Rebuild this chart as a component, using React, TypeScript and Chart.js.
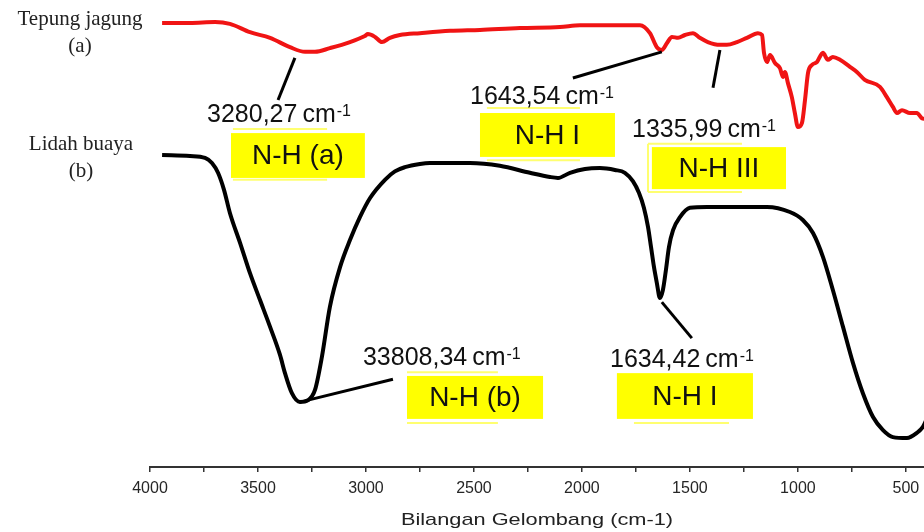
import React, { useEffect, useRef } from 'react';
import { Chart, registerables } from 'chart.js';

Chart.register(...registerables);

// ---- Data ----
const SERIES_NAMES = ['Tepung jagung', 'Lidah buaya'];
const SERIES_TAGS = ['(a)', '(b)'];

const WAVENUMBER_A = [
  3944, 3815, 3699, 3630, 3537, 3444, 3352, 3282, 3236, 3167, 3074, 3005, 2991, 2958, 2926, 2889, 2843,
  2750, 2611, 2472, 2287, 2102, 2009, 1870, 1731, 1685, 1653, 1630, 1606, 1583, 1555, 1523, 1486, 1454,
  1417, 1361, 1329, 1282, 1236, 1185, 1166, 1157, 1143, 1129, 1106, 1083, 1069, 1060, 1046, 1028, 1014,
  1000, 981, 967, 953, 935, 912, 884, 861, 838, 805, 759, 727, 690, 620, 588, 560, 541, 518, 481, 449,
  426, 405,
];
const TRANSMIT_A = [
  95.1, 95.1, 95.3, 94.9, 93.1, 91.9, 89.9, 88.9, 88.9, 89.7, 91.0, 92.3, 92.7, 92.1, 91.0, 91.9, 92.5,
  92.9, 93.4, 93.6, 94.0, 94.2, 94.6, 94.6, 94.6, 92.9, 89.9, 89.3, 90.8, 92.1, 91.9, 92.5, 92.9, 91.9,
  91.0, 90.4, 90.4, 91.0, 91.9, 92.9, 92.5, 88.7, 86.7, 88.2, 86.5, 85.4, 83.5, 84.6, 82.2, 79.2, 75.8,
  72.8, 73.7, 78.6, 84.4, 86.1, 86.7, 88.7, 87.2, 87.8, 87.2, 85.7, 84.6, 82.9, 81.4, 79.2, 77.1, 75.8,
  76.4, 75.8, 75.8, 74.7, 74.5,
];

const WAVENUMBER_B = [
  3944, 3815, 3745, 3713, 3685, 3657, 3630, 3583, 3537, 3491, 3444, 3398, 3375, 3343, 3306, 3268, 3236,
  3204, 3167, 3120, 3074, 3028, 2981, 2912, 2866, 2820, 2750, 2704, 2518, 2380, 2241, 2148, 2111, 2055,
  1986, 1917, 1847, 1801, 1764, 1736, 1713, 1694, 1680, 1667, 1653, 1639, 1625, 1611, 1597, 1578, 1546,
  1500, 1421, 1268, 1143, 1037, 977, 930, 884, 838, 791, 745, 699, 652, 606, 560, 495, 449, 421, 405,
];
const TRANSMIT_B = [
  66.8, 66.6, 66.2, 65.1, 63.0, 59.3, 54.4, 48.0, 41.5, 35.8, 30.0, 24.0, 20.1, 15.8, 13.9, 14.3, 16.5,
  23.6, 34.3, 42.8, 48.6, 53.5, 57.6, 61.5, 63.3, 64.2, 64.9, 65.1, 65.1, 64.5, 63.0, 62.1, 61.9, 63.0,
  63.8, 64.0, 63.6, 63.0, 61.2, 58.7, 55.5, 51.4, 47.1, 43.0, 39.4, 36.2, 37.9, 42.2, 47.1, 50.7, 53.5,
  55.5, 55.7, 55.7, 55.7, 54.6, 52.9, 50.1, 45.0, 37.9, 30.0, 22.3, 15.8, 10.7, 7.9, 6.4, 6.2, 7.3, 8.6,
  10.1,
];

const X_TICKS = [500, 750, 1000, 1250, 1500, 1750, 2000, 2250, 2500, 2750, 3000, 3250, 3500, 3750, 4000];
const X_LABEL_STEP = 500;
const X_TITLE = 'Bilangan Gelombang (cm-1)';

const PEAK_LABELS = ['3280,27', '1643,54', '1335,99', '33808,34', '1634,42'];
const BAND_LABELS = ['N-H (a)', 'N-H I', 'N-H III', 'N-H (b)', 'N-H I'];

// ---- Annotation layout (in data units: wavenumber, value) ----
const ANNOTATION_LAYOUT = [
  { leader: [3329, 87.6, 3407, 78.6], text: [3736, 75.8], box: [3625, 71.5, 3005, 61.9], lines: [[3616, 72.4, 3180, 72.4], [3616, 61.5, 3180, 61.5]] },
  { leader: [2042, 83.3, 1630, 88.9], text: [2518, 79.7], box: [2472, 75.8, 1847, 66.4], lines: [[2440, 76.9, 2009, 76.9], [2440, 65.7, 2009, 65.7]] },
  { leader: [1361, 89.3, 1393, 81.2], text: [1768, 72.6], box: [1676, 68.5, 1055, 59.5], lines: [[1694, 69.2, 1259, 69.2], [1694, 58.9, 1259, 58.9], [1694, 69.2, 1694, 58.9]] },
  { leader: [3306, 13.9, 2875, 18.8], text: [3014, 23.8], box: [2810, 19.5, 2180, 10.3], lines: [[2810, 20.3, 2389, 20.3], [2810, 9.4, 2389, 9.4]] },
  { leader: [1630, 35.3, 1491, 27.6], text: [1870, 23.3], box: [1838, 20.1, 1208, 10.3], lines: [[1759, 9.4, 1319, 9.4]] },
];

const SANS = '"Liberation Sans", Arial, sans-serif';
const SERIF = '"Liberation Serif", "Times New Roman", serif';

const annotationPlugin = {
  id: 'ftirAnnotations',
  afterDraw(chart: any) {
    const ctx = chart.ctx as CanvasRenderingContext2D;
    const xs = chart.scales.x;
    const ys = chart.scales.y;
    const px = (w: number) => xs.getPixelForValue(w);
    const py = (v: number) => ys.getPixelForValue(v);
    ctx.save();

    ANNOTATION_LAYOUT.forEach((a, i) => {
      const [bx1, by1, bx2, by2] = a.box;
      ctx.fillStyle = '#ffff00';
      ctx.fillRect(px(bx1), py(by1), px(bx2) - px(bx1), py(by2) - py(by1));
      ctx.strokeStyle = '#ffff70';
      ctx.lineWidth = 2;
      a.lines.forEach(([x1, y1, x2, y2]) => {
        ctx.beginPath();
        ctx.moveTo(px(x1), py(y1));
        ctx.lineTo(px(x2), py(y2));
        ctx.stroke();
      });
      ctx.fillStyle = '#111';
      ctx.font = `28px ${SANS}`;
      ctx.textAlign = 'center';
      ctx.textBaseline = 'middle';
      ctx.fillText(BAND_LABELS[i], (px(bx1) + px(bx2)) / 2, (py(by1) + py(by2)) / 2 + 1);

      const tx = px(a.text[0]);
      const base = py(a.text[1]) + 9;
      ctx.textAlign = 'left';
      ctx.textBaseline = 'alphabetic';
      ctx.font = `25px ${SANS}`;
      ctx.fillText(PEAK_LABELS[i], tx, base);
      const w1 = ctx.measureText(PEAK_LABELS[i]).width;
      ctx.fillText('cm', tx + w1 + 5, base);
      const w2 = ctx.measureText('cm').width;
      ctx.font = `16px ${SANS}`;
      ctx.fillText('-1', tx + w1 + 5 + w2 + 1, base - 6);

      const [lx1, ly1, lx2, ly2] = a.leader;
      ctx.strokeStyle = '#000';
      ctx.lineWidth = 3;
      ctx.beginPath();
      ctx.moveTo(px(lx1), py(ly1));
      ctx.lineTo(px(lx2), py(ly2));
      ctx.stroke();
    });

    const yA = py(TRANSMIT_A[0]);
    const yB = py(TRANSMIT_B[0]);
    ctx.fillStyle = '#222';
    ctx.font = `21px ${SERIF}`;
    ctx.textAlign = 'center';
    ctx.textBaseline = 'middle';
    const cx = chart.chartArea.left - 70;
    ctx.fillText(SERIES_NAMES[0], cx, yA - 3);
    ctx.fillText(SERIES_TAGS[0], cx, yA + 24);
    ctx.fillText(SERIES_NAMES[1], cx + 1, yB - 11);
    ctx.fillText(SERIES_TAGS[1], cx + 1, yB + 16);

    ctx.save();
    ctx.translate((chart.chartArea.left + chart.width) / 2, chart.chartArea.bottom + 53);
    ctx.scale(1.28, 1);
    ctx.fillStyle = '#222';
    ctx.font = `17px ${SANS}`;
    ctx.fillText(X_TITLE, 0, 0);
    ctx.restore();

    ctx.restore();
  },
};

export default function App() {
  const canvasRef = useRef<HTMLCanvasElement | null>(null);

  useEffect(() => {
    if (!canvasRef.current) return;
    const chart = new Chart(canvasRef.current, {
      type: 'line',
      data: {
        datasets: [
          {
            label: SERIES_NAMES[0],
            data: WAVENUMBER_A.map((w, i) => ({ x: w, y: TRANSMIT_A[i] })),
            borderColor: '#f01414',
            borderWidth: 4,
            pointRadius: 0,
            cubicInterpolationMode: 'monotone',
            fill: false,
          },
          {
            label: SERIES_NAMES[1],
            data: WAVENUMBER_B.map((w, i) => ({ x: w, y: TRANSMIT_B[i] })),
            borderColor: '#000000',
            borderWidth: 4,
            pointRadius: 0,
            cubicInterpolationMode: 'monotone',
            fill: false,
          },
        ],
      },
      options: {
        animation: false,
        responsive: true,
        maintainAspectRatio: false,
        layout: { padding: { left: 150, right: 0, top: 0, bottom: 0 } },
        plugins: {
          legend: { display: false },
          tooltip: { enabled: false },
          title: { display: false },
        },
        scales: {
          x: {
            type: 'linear',
            reverse: true,
            min: 416,
            max: 4000,
            afterBuildTicks: (scale: any) => {
              scale.ticks = X_TICKS.map((v) => ({ value: v }));
            },
            afterFit: (scale: any) => {
              scale.paddingLeft = 0;
              scale.paddingRight = 0;
              scale.height = 65;
            },
            ticks: {
              autoSkip: false,
              maxRotation: 0,
              padding: 7,
              color: '#262626',
              font: { size: 16, family: SANS },
              callback: (value: any) => (Number(value) % X_LABEL_STEP === 0 ? String(value) : ''),
            },
            grid: {
              display: true,
              drawOnChartArea: false,
              drawTicks: true,
              tickLength: 5,
              color: '#333',
              lineWidth: 1.5,
            },
            border: { display: true, color: '#333', width: 2 },
          },
          y: {
            display: false,
            min: 0,
            max: 100,
          },
        },
      },
      plugins: [annotationPlugin],
    });
    return () => chart.destroy();
  }, []);

  return (
    <div style={{ position: 'fixed', left: 0, top: 0, width: 924, height: 532, background: '#fff' }}>
      <canvas ref={canvasRef} />
    </div>
  );
}
